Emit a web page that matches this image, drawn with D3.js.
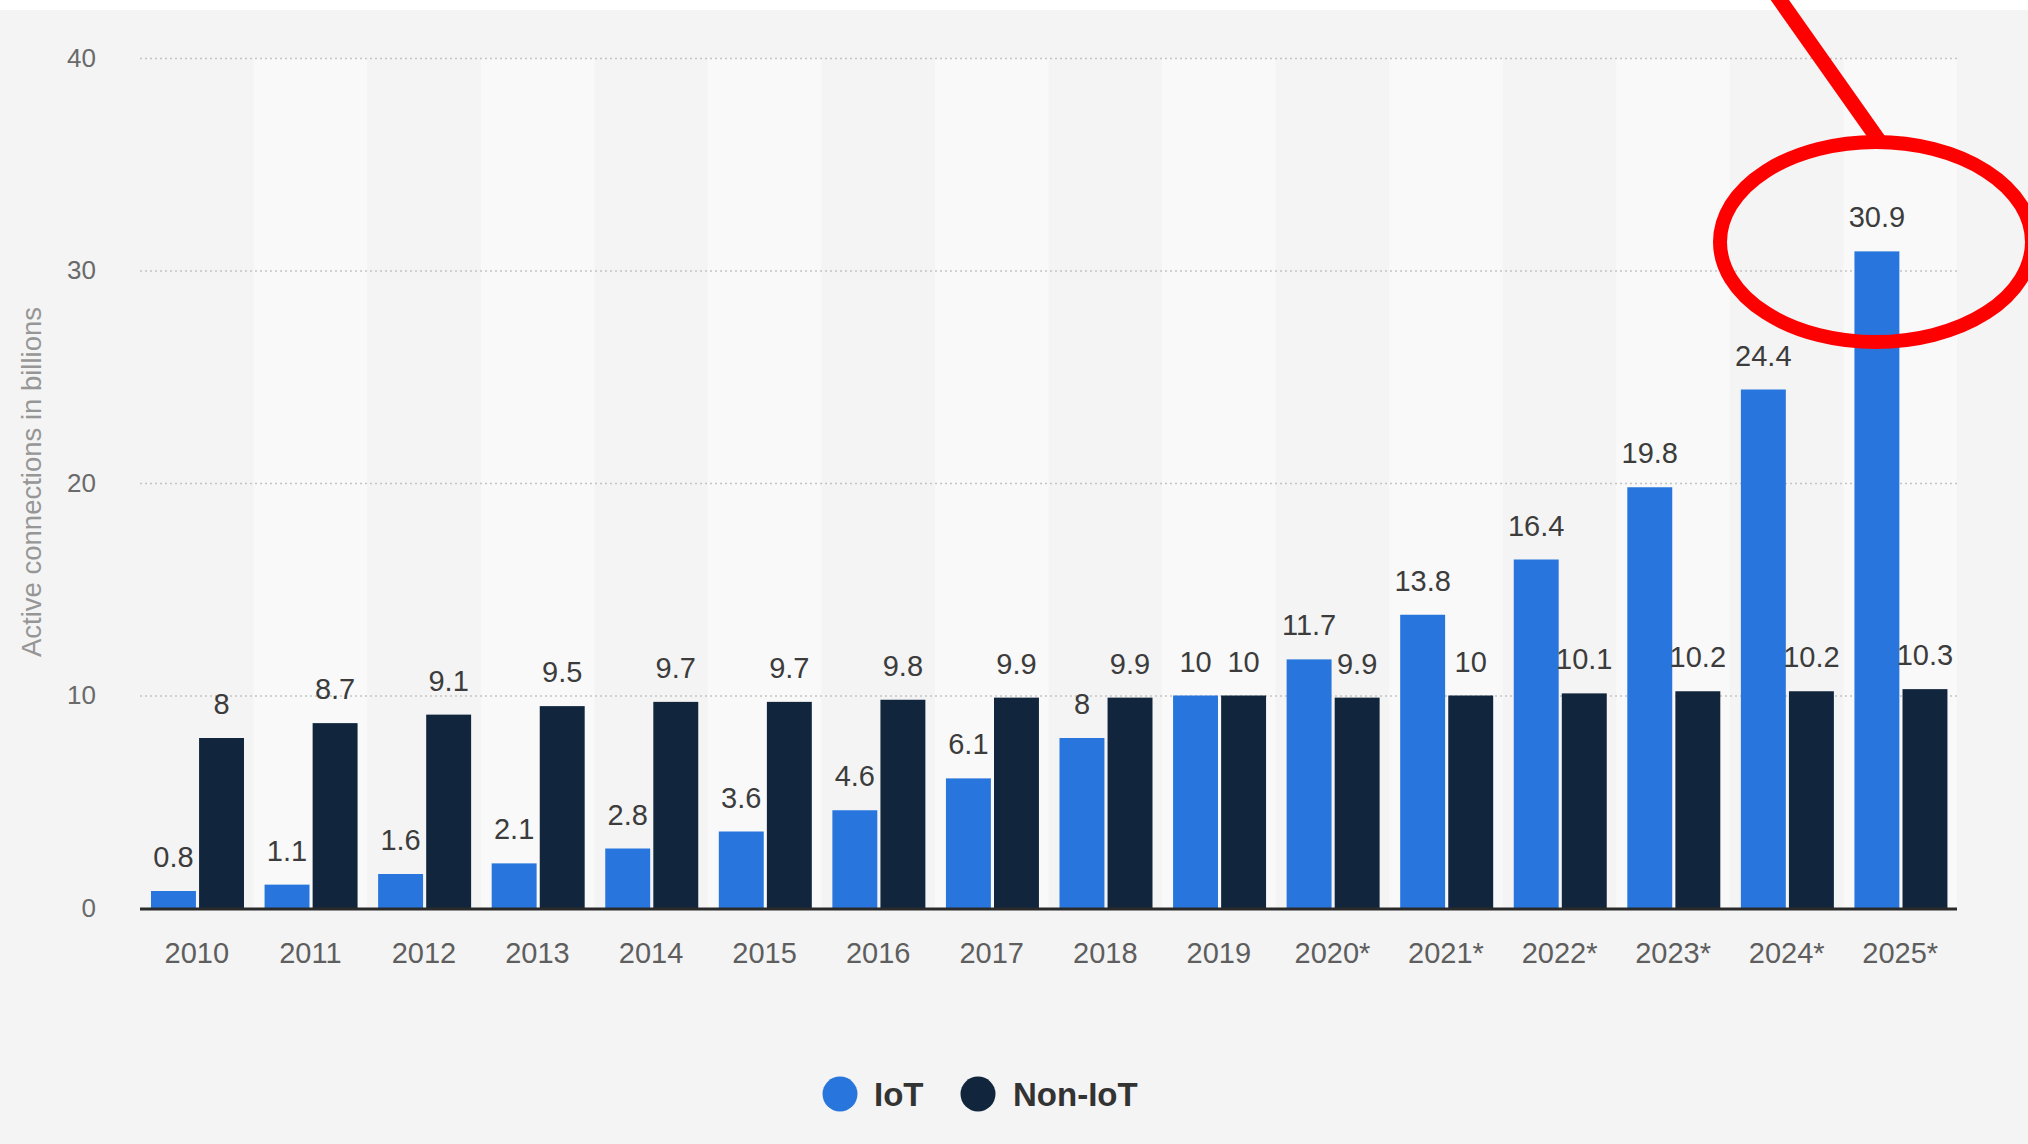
<!DOCTYPE html>
<html>
<head>
<meta charset="utf-8">
<script src="https://cdn.jsdelivr.net/npm/d3@7"></script>
<style>
  html, body { margin: 0; padding: 0; background: #f4f4f4; }
  svg { display: block; font-family: "Liberation Sans", Arial, sans-serif; }
</style>
</head>
<body>
<div id="chart"></div>
<script>
// data
const years = ["2010", "2011", "2012", "2013", "2014", "2015", "2016", "2017",
               "2018", "2019", "2020*", "2021*", "2022*", "2023*", "2024*", "2025*"];
const iot    = [0.8, 1.1, 1.6, 2.1, 2.8, 3.6, 4.6, 6.1, 8, 10, 11.7, 13.8, 16.4, 19.8, 24.4, 30.9];
const nonIot = [8, 8.7, 9.1, 9.5, 9.7, 9.7, 9.8, 9.9, 9.9, 10, 9.9, 10, 10.1, 10.2, 10.2, 10.3];
const seriesNames = ["IoT", "Non-IoT"];
const yTicks = [0, 10, 20, 30, 40];

const COLORS = { "IoT": "#2876dd", "Non-IoT": "#11263c" };

const W = 2028, H = 1144;
const plot = { left: 140, right: 1957, top: 58, bottom: 908 };

const svg = d3.select("#chart").append("svg")
  .attr("width", W).attr("height", H);

svg.append("rect").attr("width", W).attr("height", H).attr("fill", "#f4f4f4");
svg.append("rect").attr("width", W).attr("height", 10).attr("fill", "#ffffff");

const x0 = d3.scaleBand().domain(years).range([plot.left, plot.right]);
const x1 = d3.scaleBand().domain(seriesNames).range([11, 104]).paddingInner(0.065);
const y = d3.scaleLinear().domain([0, 40]).range([plot.bottom, plot.top]);

// alternating column shading
svg.append("g").selectAll("rect")
  .data(years.filter((d, i) => i % 2 === 1))
  .join("rect")
  .attr("x", d => x0(d))
  .attr("y", plot.top)
  .attr("width", x0.bandwidth())
  .attr("height", plot.bottom - plot.top)
  .attr("fill", "#f9f9f9");

// dotted gridlines
const yAxis = d3.axisLeft(y).tickValues(yTicks).tickSize(-(plot.right - plot.left)).tickPadding(44);
const gy = svg.append("g").attr("transform", `translate(${plot.left},0)`).call(yAxis);
gy.select(".domain").remove();
gy.selectAll(".tick line")
  .attr("stroke", "#c4c4c4")
  .attr("stroke-width", 1.5)
  .attr("stroke-dasharray", "2,3")
  .filter(d => d === 0).remove();
gy.selectAll(".tick text")
  .attr("font-size", 26)
  .attr("fill", "#6a6a6a")
  .attr("font-family", "Liberation Sans, Arial, sans-serif");

// y axis title
svg.append("text")
  .attr("transform", `translate(41,482) rotate(-90)`)
  .attr("text-anchor", "middle")
  .attr("font-size", 27.5)
  .attr("fill", "#969696")
  .text("Active connections in billions");

const rows = years.map((yr, i) => ({ year: yr, values: [
  { key: "IoT", value: iot[i] },
  { key: "Non-IoT", value: nonIot[i] }
]}));

const groups = svg.append("g").selectAll("g")
  .data(rows)
  .join("g")
  .attr("transform", d => `translate(${x0(d.year)},0)`);

groups.selectAll("rect")
  .data(d => d.values)
  .join("rect")
  .attr("x", d => x1(d.key))
  .attr("y", d => y(d.value))
  .attr("width", x1.bandwidth())
  .attr("height", d => y(0) - y(d.value))
  .attr("fill", d => COLORS[d.key]);

groups.selectAll("text")
  .data(d => d.values)
  .join("text")
  .attr("x", d => x1(d.key) + x1.bandwidth() / 2)
  .attr("y", d => y(d.value) - 24)
  .attr("text-anchor", "middle")
  .attr("font-size", 29)
  .attr("fill", "#3c3c3c")
  .text(d => d.value);

// baseline
svg.append("line")
  .attr("x1", plot.left).attr("x2", plot.right)
  .attr("y1", y(0) + 1).attr("y2", y(0) + 1)
  .attr("stroke", "#2a2a2a").attr("stroke-width", 3);

// x axis labels
const xAxis = d3.axisBottom(x0).tickSize(0).tickPadding(0);
const gx = svg.append("g").attr("transform", `translate(0,${plot.bottom})`).call(xAxis);
gx.select(".domain").remove();
gx.selectAll(".tick text")
  .attr("dy", null)
  .attr("y", 55)
  .attr("font-size", 29)
  .attr("fill", "#5e5e5e")
  .attr("font-family", "Liberation Sans, Arial, sans-serif");

// legend
const legendItems = [
  { key: "IoT", cx: 840, tx: 874 },
  { key: "Non-IoT", cx: 978, tx: 1013 }
];
const lg = svg.append("g").selectAll("g").data(legendItems).join("g");
lg.append("circle")
  .attr("cx", d => d.cx).attr("cy", 1094).attr("r", 17.5)
  .attr("fill", d => COLORS[d.key]);
lg.append("text")
  .attr("x", d => d.tx).attr("y", 1094).attr("dy", "0.35em")
  .attr("font-size", 33).attr("font-weight", "bold")
  .attr("fill", "#333333")
  .text(d => d.key);

// red annotation drawn over the chart
svg.append("line")
  .attr("x1", 1777).attr("y1", -4)
  .attr("x2", 1880).attr("y2", 142)
  .attr("stroke", "#ff0000").attr("stroke-width", 15);
svg.append("ellipse")
  .attr("cx", 1876).attr("cy", 242)
  .attr("rx", 156).attr("ry", 100)
  .attr("fill", "none")
  .attr("stroke", "#ff0000").attr("stroke-width", 14);
</script>
</body>
</html>
